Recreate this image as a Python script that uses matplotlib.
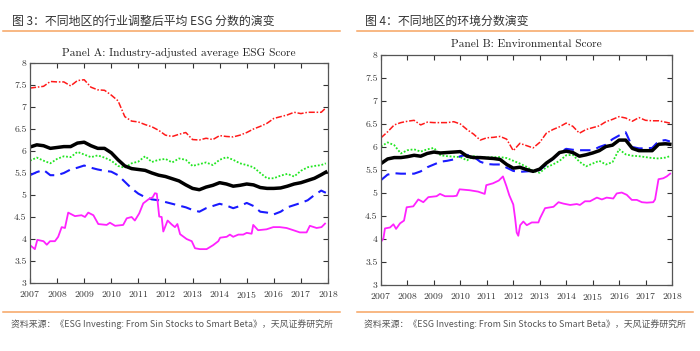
import matplotlib
matplotlib.use("Agg")
import matplotlib.pyplot as plt
from matplotlib.lines import Line2D
from matplotlib.ticker import FuncFormatter, MultipleLocator

plt.rcParams["axes.formatter.use_mathtext"] = True

# ---- data ----
t_q = [2007 + 0.25 * i for i in range(44)] + [2017.92]

# Panel A: industry-adjusted average ESG score
red_a = [7.43, 7.45, 7.47, 7.58, 7.57, 7.57, 7.48, 7.60, 7.62, 7.45, 7.39, 7.38,
         7.27, 7.14, 6.78, 6.68, 6.66, 6.60, 6.55, 6.47, 6.36, 6.33, 6.38, 6.42,
         6.26, 6.25, 6.29, 6.26, 6.35, 6.33, 6.32, 6.36, 6.42, 6.50, 6.56, 6.63,
         6.74, 6.78, 6.82, 6.88, 6.85, 6.88, 6.88, 6.88, 6.98]
black_a = [6.09, 6.14, 6.12, 6.06, 6.08, 6.10, 6.10, 6.18, 6.20, 6.12, 6.06, 6.06,
           5.96, 5.80, 5.66, 5.60, 5.58, 5.56, 5.50, 5.45, 5.42, 5.37, 5.32, 5.23,
           5.15, 5.12, 5.18, 5.22, 5.28, 5.25, 5.20, 5.22, 5.25, 5.23, 5.17, 5.15,
           5.15, 5.16, 5.20, 5.25, 5.28, 5.33, 5.38, 5.46, 5.52]
green_a = [5.78, 5.85, 5.78, 5.72, 5.82, 5.88, 5.86, 5.98, 5.92, 5.86, 5.90, 5.85,
           5.78, 5.66, 5.62, 5.72, 5.76, 5.88, 5.75, 5.80, 5.82, 5.74, 5.83, 5.80,
           5.66, 5.70, 5.74, 5.68, 5.80, 5.86, 5.80, 5.72, 5.68, 5.63, 5.50, 5.38,
           5.38, 5.44, 5.48, 5.42, 5.55, 5.63, 5.66, 5.68, 5.72]
blue_a = [5.45, 5.52, 5.57, 5.45, 5.45, 5.50, 5.58, 5.62, 5.67, 5.62, 5.58, 5.55,
          5.53, 5.45, 5.30, 5.15, 5.03, 4.95, 4.90, 4.88, 4.84, 4.80, 4.76, 4.72,
          4.66, 4.62, 4.70, 4.75, 4.80, 4.76, 4.70, 4.75, 4.82, 4.75, 4.62, 4.60,
          4.56, 4.62, 4.72, 4.77, 4.82, 4.88, 5.00, 5.10, 5.05]
mag_a_t = [2007.0, 2007.18, 2007.27, 2007.5, 2007.62, 2007.74, 2007.92, 2008.04,
           2008.17, 2008.29, 2008.41, 2008.66, 2008.9, 2009.03, 2009.15, 2009.34,
           2009.52, 2009.83, 2009.95, 2010.14, 2010.44, 2010.57, 2010.75, 2010.87,
           2011.03, 2011.18, 2011.37, 2011.53, 2011.61, 2011.68, 2011.77, 2011.86,
           2011.92, 2012.08, 2012.23, 2012.35, 2012.44, 2012.54, 2012.78, 2012.97,
           2013.09, 2013.27, 2013.52, 2013.76, 2013.95, 2014.02, 2014.26, 2014.38,
           2014.5, 2014.69, 2014.87, 2015.0, 2015.18, 2015.24, 2015.42, 2015.73,
           2015.98, 2016.22, 2016.47, 2016.72, 2016.96, 2017.21, 2017.33, 2017.58,
           2017.76, 2017.89]
mag_a = [3.86, 3.77, 3.98, 3.95, 3.87, 3.95, 3.95, 4.05, 4.27, 4.25, 4.60, 4.52,
         4.54, 4.50, 4.60, 4.54, 4.34, 4.32, 4.37, 4.30, 4.32, 4.47, 4.50, 4.42,
         4.58, 4.81, 4.90, 4.95, 5.04, 5.03, 4.51, 4.50, 4.17, 4.42, 4.33, 4.27,
         4.34, 4.11, 4.00, 3.95, 3.79, 3.77, 3.77, 3.86, 3.95, 4.03, 4.05, 4.10,
         4.05, 4.10, 4.10, 4.14, 4.12, 4.32, 4.20, 4.22, 4.27, 4.27, 4.25, 4.20,
         4.15, 4.15, 4.30, 4.25, 4.27, 4.35]

# Panel B: environmental score
red_b = [6.20, 6.33, 6.48, 6.53, 6.56, 6.58, 6.48, 6.54, 6.53, 6.53, 6.53, 6.55,
         6.50, 6.38, 6.28, 6.15, 6.20, 6.21, 6.23, 6.17, 5.92, 6.08, 6.03, 5.98,
         6.10, 6.30, 6.38, 6.44, 6.52, 6.45, 6.30, 6.38, 6.42, 6.46, 6.55, 6.60,
         6.66, 6.63, 6.56, 6.64, 6.58, 6.57, 6.57, 6.54, 6.52]
black_b = [5.64, 5.74, 5.77, 5.77, 5.79, 5.82, 5.80, 5.86, 5.89, 5.87, 5.88, 5.89,
           5.90, 5.80, 5.77, 5.77, 5.76, 5.75, 5.73, 5.62, 5.54, 5.56, 5.51, 5.47,
           5.52, 5.65, 5.75, 5.88, 5.91, 5.88, 5.80, 5.83, 5.87, 5.92, 6.01, 6.04,
           6.15, 6.15, 5.97, 5.92, 5.92, 5.92, 6.06, 6.07, 6.06]
green_b = [6.01, 6.10, 6.04, 5.86, 5.93, 5.95, 5.90, 5.95, 5.98, 5.82, 5.80, 5.79,
           5.78, 5.71, 5.80, 5.78, 5.77, 5.78, 5.78, 5.76, 5.70, 5.64, 5.57, 5.48,
           5.44, 5.56, 5.62, 5.70, 5.82, 5.83, 5.68, 5.58, 5.64, 5.70, 5.62, 5.67,
           5.95, 5.84, 5.81, 5.80, 5.78, 5.76, 5.75, 5.77, 5.80]
blue_b = [5.28, 5.40, 5.43, 5.42, 5.42, 5.42, 5.47, 5.56, 5.62, 5.68, 5.70, 5.73,
          5.80, 5.83, 5.79, 5.68, 5.63, 5.62, 5.62, 5.55, 5.48, 5.46, 5.47, 5.48,
          5.50, 5.62, 5.74, 5.88, 5.96, 5.94, 5.93, 5.93, 5.93, 6.00, 6.05, 6.17,
          6.25, 6.32, 6.00, 5.97, 5.97, 5.98, 6.13, 6.15, 6.12]
mag_b_t = [2007.0, 2007.09, 2007.15, 2007.34, 2007.47, 2007.57, 2007.72, 2007.87,
           2007.97, 2008.22, 2008.41, 2008.6, 2008.79, 2009.1, 2009.23, 2009.42,
           2009.73, 2009.86, 2009.97, 2010.35, 2010.67, 2010.92, 2010.98, 2011.23,
           2011.45, 2011.61, 2011.74, 2011.85, 2012.0, 2012.07, 2012.13, 2012.19,
           2012.26, 2012.38, 2012.51, 2012.7, 2012.95, 2013.01, 2013.2, 2013.52,
           2013.71, 2013.89, 2014.15, 2014.4, 2014.52, 2014.71, 2014.9, 2015.16,
           2015.35, 2015.53, 2015.78, 2015.91, 2016.1, 2016.29, 2016.48, 2016.67,
           2016.86, 2017.05, 2017.29, 2017.36, 2017.49, 2017.67, 2017.8, 2017.93]
mag_b = [3.94, 4.01, 4.23, 4.25, 4.32, 4.22, 4.34, 4.40, 4.69, 4.71, 4.86, 4.80,
         4.91, 4.93, 4.98, 4.93, 4.93, 4.94, 5.08, 5.06, 5.03, 4.98, 5.17, 5.21,
         5.27, 5.36, 5.15, 4.95, 4.75, 4.45, 4.14, 4.07, 4.30, 4.38, 4.30, 4.36,
         4.36, 4.45, 4.67, 4.70, 4.80, 4.77, 4.74, 4.76, 4.74, 4.82, 4.82, 4.90,
         4.86, 4.90, 4.88, 4.99, 5.01, 4.96, 4.85, 4.85, 4.80, 4.79, 4.80, 4.86,
         5.30, 5.32, 5.36, 5.42]

years = list(range(2007, 2019))

# ---- style ----
SERIF = "cmr10"
CJK = ["Noto Sans CJK SC", "DejaVu Sans"]
ORANGE = "#F7A462"
W, H = 700, 351

fig = plt.figure(figsize=(7.0, 3.51), dpi=100)


def fx(px):
    return px / W


def fy(py):
    return 1 - py / H


def panel(rect, red, black, green, blue, mt, mag, title, title_y):
    ax = fig.add_axes(rect)
    ax.plot(t_q, red, color="#FF1A1A", lw=1.1, ls=(0, (4, 1.2, 1, 1.2)))
    ax.plot(t_q, green, color="#22E622", lw=1.3, ls=(0, (1, 1)))
    ax.plot(t_q, blue, color="#1A1AFF", lw=1.5, ls=(0, (5, 3)))
    ax.plot(mt, mag, color="#FF22FF", lw=1.3)
    ax.plot(t_q, black, color="black", lw=2.5, solid_joinstyle="round")
    ax.set_xlim(2007, 2018)
    ax.set_ylim(3, 8)
    ax.set_xticks(years)
    ax.yaxis.set_major_locator(MultipleLocator(0.5))
    ax.yaxis.set_major_formatter(FuncFormatter(lambda v, p: f"{v:g}"))
    ax.tick_params(direction="in", length=3.5, width=0.8, top=True, right=True,
                   labelsize=7.0, colors="#333333", pad=2.5)
    ax.tick_params(axis="x", pad=4)
    for lab in ax.get_xticklabels() + ax.get_yticklabels():
        lab.set_fontfamily(SERIF)
    for s in ax.spines.values():
        s.set_color("#555555")
        s.set_linewidth(0.9)
    x0, y0, w, h = rect
    fig.text(x0 + w / 2, title_y, title, family=SERIF, fontsize=8.2,
             ha="center", va="center", color="#222222")
    return ax


panel([fx(30), fy(283), fx(328 - 30), (283 - 63) / H],
      red_a, black_a, green_a, blue_a, mag_a_t, mag_a,
      "Panel A: Industry-adjusted average ESG Score", fy(53))
panel([fx(381), fy(285), fx(672 - 381), (285 - 55) / H],
      red_b, black_b, green_b, blue_b, mag_b_t, mag_b,
      "Panel B: Environmental Score", fy(44))

# headers, rules and source notes
fig.text(fx(12), fy(21), "图 3：不同地区的行业调整后平均 ESG 分数的演变",
         family=CJK, fontsize=8.6, color="#333333", va="center", ha="left")
fig.text(fx(365), fy(21), "图 4：不同地区的环境分数演变",
         family=CJK, fontsize=8.6, color="#333333", va="center", ha="left")
for xa, xb in ((3, 340), (357, 693)):
    fig.add_artist(Line2D([fx(xa), fx(xb)], [fy(31), fy(31)], color=ORANGE, lw=1.1))
    fig.add_artist(Line2D([fx(xa), fx(xb)], [fy(312), fy(312)], color=ORANGE, lw=1.1))
src = "资料来源：《ESG Investing: From Sin Stocks to Smart Beta》，天风证券研究所"
fig.text(fx(11), fy(324), src, family=CJK, fontsize=6.4, color="#555555",
         va="center", ha="left")
fig.text(fx(364), fy(324), src, family=CJK, fontsize=6.4, color="#555555",
         va="center", ha="left")

fig.savefig("out.png", dpi=100, facecolor="white")
